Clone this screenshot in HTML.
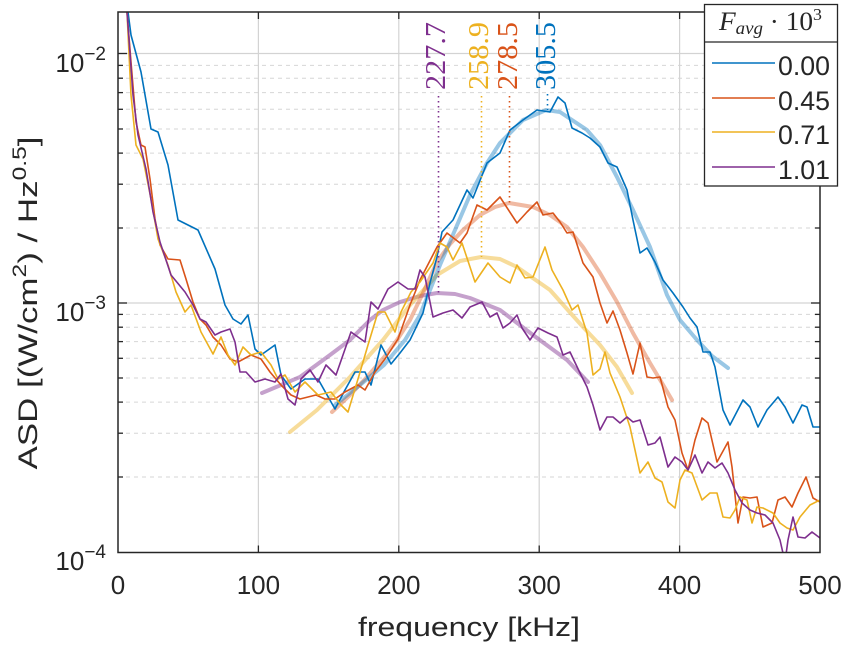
<!DOCTYPE html>
<html>
<head>
<meta charset="utf-8">
<style>
  html, body { margin: 0; padding: 0; background: #fff; }
  svg { display: block; }
  text { font-family: "Liberation Sans", sans-serif; fill: #262626; }
  .serif { font-family: "Liberation Serif", serif; }
</style>
</head>
<body>
<svg width="850" height="647" viewBox="0 0 850 647" xmlns="http://www.w3.org/2000/svg">
  <defs>
    <clipPath id="plot"><rect x="118" y="12" width="702" height="540.5"/></clipPath>
  </defs>
  <rect x="0" y="0" width="850" height="647" fill="#fff"/>

  <!-- minor dashed grid -->
  <g stroke="#d6d6d6" stroke-width="1" stroke-dasharray="4 4" fill="none">
    <line x1="118" x2="820" y1="477" y2="477"/>
    <line x1="118" x2="820" y1="433.2" y2="433.2"/>
    <line x1="118" x2="820" y1="402.1" y2="402.1"/>
    <line x1="118" x2="820" y1="378" y2="378"/>
    <line x1="118" x2="820" y1="358.3" y2="358.3"/>
    <line x1="118" x2="820" y1="341.6" y2="341.6"/>
    <line x1="118" x2="820" y1="327.2" y2="327.2"/>
    <line x1="118" x2="820" y1="314.4" y2="314.4"/>
    <line x1="118" x2="820" y1="228" y2="228"/>
    <line x1="118" x2="820" y1="184.2" y2="184.2"/>
    <line x1="118" x2="820" y1="153.1" y2="153.1"/>
    <line x1="118" x2="820" y1="129" y2="129"/>
    <line x1="118" x2="820" y1="109.3" y2="109.3"/>
    <line x1="118" x2="820" y1="92.6" y2="92.6"/>
    <line x1="118" x2="820" y1="78.2" y2="78.2"/>
    <line x1="118" x2="820" y1="65.4" y2="65.4"/>
  </g>
  <!-- major grid -->
  <g stroke="#d3d3d3" stroke-width="1.2" fill="none">
    <line x1="118" x2="820" y1="53.5" y2="53.5"/>
    <line x1="118" x2="820" y1="303" y2="303"/>
    <line x1="258.4" x2="258.4" y1="12" y2="552.5"/>
    <line x1="398.8" x2="398.8" y1="12" y2="552.5"/>
    <line x1="539.2" x2="539.2" y1="12" y2="552.5"/>
    <line x1="679.6" x2="679.6" y1="12" y2="552.5"/>
  </g>

  <g clip-path="url(#plot)" fill="none" stroke-linejoin="round" stroke-linecap="round">
    <!-- fits -->
    <polyline stroke="#7E2F8E" stroke-opacity="0.45" stroke-width="4"
      points="262,393 300,377 330,355 350,340 370,320 383,310 400,302 420,296 437,293 455,294 470,298 500,310 533,335 567,360 588,382"/>
    <polyline stroke="#EDB120" stroke-opacity="0.45" stroke-width="4"
      points="290,432 317,410 350,377 383,340 410,305 437,275 460,261 481,257 500,259 517,267 550,290 583,327 600,345 617,367 632,393"/>
    <polyline stroke="#D95319" stroke-opacity="0.4" stroke-width="4"
      points="332,412 350,395 367,377 385,356 397,340 410,320 423,293 437,262 450,244 463,230 480,215 495,207 509,203 533,207 550,215 567,227 583,247 600,273 617,302 633,333 650,363 662,383 672,400"/>
    <polyline stroke="#0072BD" stroke-opacity="0.4" stroke-width="4"
      points="335,405 360,385 384,365 405,340 420,315 440,265 455,230 470,195 487,163 500,143 523,120 546,110 560,112 587,130 600,145 617,177 633,210 650,247 667,295 680,320 697,340 712,356 728,368"/>

    <!-- data -->
    <polyline stroke="#0072BD" stroke-width="1.6"
      points="126,-10 128,12 131,35 141,72 151,129 158,132 168,165 178,220 188,225 198,230 215,269 225,305 233,319 241,324 248,315 255,349 261,355 275,345 281,375 291,389 305,379 318,379 335,409 345,390 355,372 365,372 371,385 381,345 391,364 400,353 410,340 423,313 430,283 437,257 442,232 453,220 467,190 473,198 487,163 500,153 510,130 523,120 537,110 550,112 558,97 565,103 572,128 582,133 590,138 600,147 608,163 617,167 627,190 633,220 640,253 647,248 655,262 663,280 673,293 683,307 690,318 697,327 703,352 710,352 715,367 723,410 730,425 743,400 750,407 758,427 767,410 778,397 785,407 793,423 802,405 807,407 813,427 820,427"/>
    <polyline stroke="#D95319" stroke-width="1.6"
      points="125,-10 127,12 131,62 136,122 141,145 145,147 150,179 155,219 160,245 168,259 180,260 186,279 193,302 200,319 206,325 213,337 221,345 230,359 238,362 251,355 261,359 270,372 281,385 291,395 300,399 316,395 325,399 335,399 345,392 358,385 365,390 375,372 385,359 398,339 410,305 420,280 437,247 447,233 460,243 467,233 477,205 487,210 500,197 517,223 527,212 537,202 543,215 553,213 560,222 567,233 573,232 583,263 593,277 600,303 607,323 613,311 620,330 627,353 633,374 640,343 647,377 653,378 660,377 668,407 675,420 682,453 688,470 695,440 702,418 708,423 717,462 728,442 732,467 738,523 743,497 750,498 757,497 763,527 772,523 778,500 785,497 792,507 798,493 806,477 813,498 820,502"/>
    <polyline stroke="#EDB120" stroke-width="1.6"
      points="125,-10 127,12 131,95 136,145 143,159 151,199 158,239 168,265 176,292 185,312 191,305 201,332 213,354 221,337 228,355 235,365 243,347 251,355 261,352 271,365 278,379 285,375 295,392 305,382 318,395 331,392 341,405 348,412 358,379 368,345 378,312 385,312 395,332 401,312 411,292 420,282 433,263 440,243 447,247 453,260 462,243 475,282 488,263 500,277 510,283 517,265 525,278 533,277 545,247 552,270 563,290 572,310 578,305 587,333 593,375 600,369 605,352 610,373 620,397 630,427 640,473 648,462 655,478 662,482 668,502 675,508 680,480 685,470 692,473 702,500 710,493 717,493 723,517 730,518 735,510 740,497 747,500 752,523 757,507 763,508 773,513 780,523 787,528 793,530 800,517 810,505 820,500"/>
    <polyline stroke="#7E2F8E" stroke-width="1.6"
      points="125,-10 127,12 133,95 138,135 146,169 153,212 160,242 171,275 185,292 193,305 200,319 206,322 215,335 221,332 230,329 235,342 240,372 246,372 255,382 265,379 275,382 281,374 288,399 295,405 301,379 310,370 318,382 326,365 336,375 351,332 365,342 371,302 378,309 388,289 398,282 408,289 415,289 420,270 425,277 433,317 443,313 453,310 462,318 470,307 482,302 490,317 497,313 503,328 510,323 517,315 522,328 530,340 538,328 548,333 557,337 563,355 570,352 580,373 587,387 593,405 600,430 607,417 613,417 620,423 627,417 633,422 640,420 648,445 655,443 660,437 668,467 675,457 682,462 688,470 695,455 702,473 708,462 715,468 722,463 728,473 735,490 742,503 750,510 757,513 765,515 773,523 780,540 785,562 788,540 793,517 798,537 805,538 812,532 820,538"/>
  </g>

  <!-- dotted peak markers -->
  <g fill="none" stroke-width="1.6" stroke-dasharray="1.5 3.5">
    <line x1="438.5" x2="438.5" y1="96" y2="293" stroke="#7E2F8E"/>
    <line x1="481.5" x2="481.5" y1="96" y2="257" stroke="#EDB120"/>
    <line x1="509.5" x2="509.5" y1="96" y2="203" stroke="#D95319"/>
    <line x1="547.5" x2="547.5" y1="94" y2="110" stroke="#0072BD"/>
  </g>
  <g class="serif" font-size="29">
    <text class="serif" transform="translate(445,90) rotate(-90)" style="fill:#7E2F8E" textLength="68" lengthAdjust="spacingAndGlyphs">227.7</text>
    <text class="serif" transform="translate(488,90) rotate(-90)" style="fill:#EDB120" textLength="68" lengthAdjust="spacingAndGlyphs">258.9</text>
    <text class="serif" transform="translate(517,90) rotate(-90)" style="fill:#D95319" textLength="68" lengthAdjust="spacingAndGlyphs">278.5</text>
    <text class="serif" transform="translate(555,90) rotate(-90)" style="fill:#0072BD" textLength="68" lengthAdjust="spacingAndGlyphs">305.5</text>
  </g>

  <!-- axes box -->
  <rect x="118" y="12" width="702" height="540.5" fill="none" stroke="#262626" stroke-width="1.5"/>
  <!-- ticks -->
  <g stroke="#262626" stroke-width="1.3" fill="none">
    <line x1="258.4" x2="258.4" y1="552.5" y2="545.5"/>
    <line x1="398.8" x2="398.8" y1="552.5" y2="545.5"/>
    <line x1="539.2" x2="539.2" y1="552.5" y2="545.5"/>
    <line x1="679.6" x2="679.6" y1="552.5" y2="545.5"/>
    <line x1="258.4" x2="258.4" y1="12" y2="19"/>
    <line x1="398.8" x2="398.8" y1="12" y2="19"/>
    <line x1="539.2" x2="539.2" y1="12" y2="19"/>
    <line x1="679.6" x2="679.6" y1="12" y2="19"/>
    <line x1="118" x2="127" y1="53.5" y2="53.5"/>
    <line x1="118" x2="127" y1="303" y2="303"/>
    <line x1="820" x2="811" y1="53.5" y2="53.5"/>
    <line x1="820" x2="811" y1="303" y2="303"/>
    <line x1="118" x2="123" y1="477" y2="477"/>
    <line x1="118" x2="123" y1="433.2" y2="433.2"/>
    <line x1="118" x2="123" y1="402.1" y2="402.1"/>
    <line x1="118" x2="123" y1="378" y2="378"/>
    <line x1="118" x2="123" y1="358.3" y2="358.3"/>
    <line x1="118" x2="123" y1="341.6" y2="341.6"/>
    <line x1="118" x2="123" y1="327.2" y2="327.2"/>
    <line x1="118" x2="123" y1="314.4" y2="314.4"/>
    <line x1="118" x2="123" y1="228" y2="228"/>
    <line x1="118" x2="123" y1="184.2" y2="184.2"/>
    <line x1="118" x2="123" y1="153.1" y2="153.1"/>
    <line x1="118" x2="123" y1="129" y2="129"/>
    <line x1="118" x2="123" y1="109.3" y2="109.3"/>
    <line x1="118" x2="123" y1="92.6" y2="92.6"/>
    <line x1="118" x2="123" y1="78.2" y2="78.2"/>
    <line x1="118" x2="123" y1="65.4" y2="65.4"/>
    <line x1="820" x2="815" y1="477" y2="477"/>
    <line x1="820" x2="815" y1="433.2" y2="433.2"/>
    <line x1="820" x2="815" y1="402.1" y2="402.1"/>
    <line x1="820" x2="815" y1="378" y2="378"/>
    <line x1="820" x2="815" y1="358.3" y2="358.3"/>
    <line x1="820" x2="815" y1="341.6" y2="341.6"/>
    <line x1="820" x2="815" y1="327.2" y2="327.2"/>
    <line x1="820" x2="815" y1="314.4" y2="314.4"/>
    <line x1="820" x2="815" y1="228" y2="228"/>
    <line x1="820" x2="815" y1="184.2" y2="184.2"/>
  </g>

  <!-- x tick labels -->
  <g font-size="26" text-anchor="middle">
    <text x="118" y="594">0</text>
    <text x="258.4" y="594">100</text>
    <text x="398.8" y="594">200</text>
    <text x="539.2" y="594">300</text>
    <text x="679.6" y="594">400</text>
    <text x="820" y="594">500</text>
  </g>
  <!-- y tick labels -->
  <g font-size="26" text-anchor="end">
    <text x="106" y="72">10<tspan dy="-12" font-size="19">−2</tspan></text>
    <text x="106" y="321">10<tspan dy="-12" font-size="19">−3</tspan></text>
    <text x="106" y="570">10<tspan dy="-12" font-size="19">−4</tspan></text>
  </g>

  <!-- axis labels -->
  <text x="469" y="636" font-size="27" text-anchor="middle" textLength="222" lengthAdjust="spacingAndGlyphs">frequency [kHz]</text>
  <text transform="translate(37,303) rotate(-90)" font-size="27" text-anchor="middle" textLength="333" lengthAdjust="spacingAndGlyphs">ASD [(W/cm<tspan dy="-11" font-size="19">2</tspan><tspan dy="11">) / Hz</tspan><tspan dy="-11" font-size="19">0.5</tspan><tspan dy="11">]</tspan></text>

  <!-- legend -->
  <rect x="704.5" y="4.5" width="133" height="181.5" fill="#fff" stroke="#262626" stroke-width="1.3"/>
  <line x1="704.5" x2="837.5" y1="42" y2="42" stroke="#262626" stroke-width="1.3"/>
  <text class="serif" x="719" y="30" font-size="26" textLength="103" lengthAdjust="spacingAndGlyphs"><tspan font-style="italic">F</tspan><tspan font-style="italic" font-size="18" dy="4">avg</tspan><tspan dy="-4"> · 10</tspan><tspan font-size="17" dy="-10">3</tspan></text>
  <g stroke-width="1.6">
    <line x1="712" x2="775" y1="63" y2="63" stroke="#0072BD"/>
    <line x1="712" x2="775" y1="98" y2="98" stroke="#D95319"/>
    <line x1="712" x2="775" y1="132" y2="132" stroke="#EDB120"/>
    <line x1="712" x2="775" y1="167" y2="167" stroke="#7E2F8E"/>
  </g>
  <g font-size="27">
    <text x="778" y="75" textLength="52" lengthAdjust="spacingAndGlyphs">0.00</text>
    <text x="778" y="110" textLength="52" lengthAdjust="spacingAndGlyphs">0.45</text>
    <text x="778" y="144" textLength="52" lengthAdjust="spacingAndGlyphs">0.71</text>
    <text x="778" y="179" textLength="52" lengthAdjust="spacingAndGlyphs">1.01</text>
  </g>
</svg>
</body>
</html>
